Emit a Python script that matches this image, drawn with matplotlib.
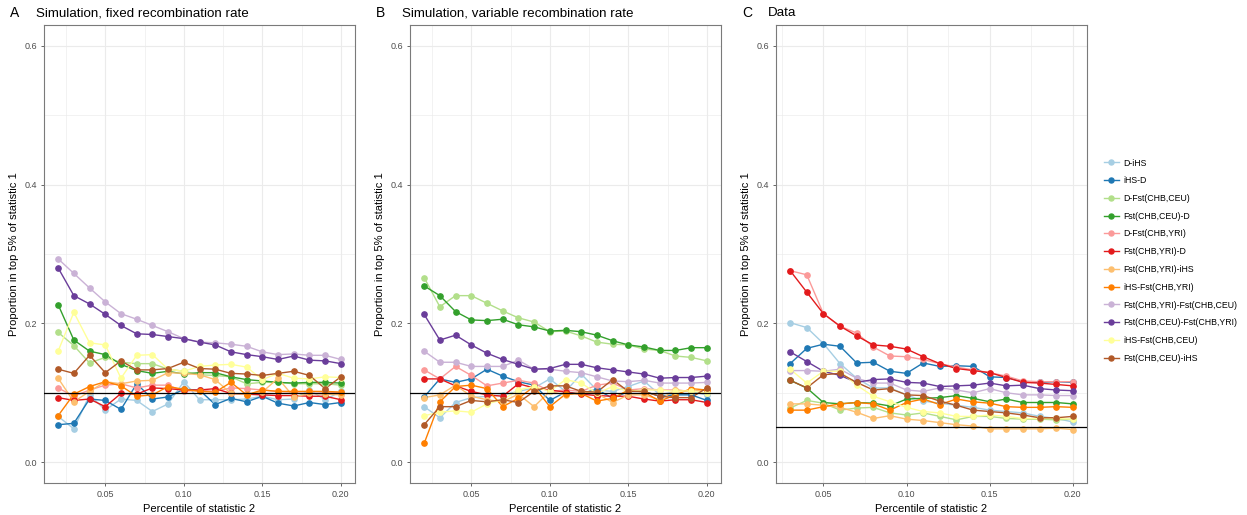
"""
Proportion of top-5% windows for statistic 1 that are also in the top
percentile of statistic 2, for two simulation settings and the real data.
"""

import matplotlib.pyplot as plt
import numpy as np

plt.rcParams["font.family"] = ["Liberation Sans", "DejaVu Sans"]

SERIES = [
    "D-iHS",
    "iHS-D",
    "D-Fst(CHB,CEU)",
    "Fst(CHB,CEU)-D",
    "D-Fst(CHB,YRI)",
    "Fst(CHB,YRI)-D",
    "Fst(CHB,YRI)-iHS",
    "iHS-Fst(CHB,YRI)",
    "Fst(CHB,YRI)-Fst(CHB,CEU)",
    "Fst(CHB,CEU)-Fst(CHB,YRI)",
    "iHS-Fst(CHB,CEU)",
    "Fst(CHB,CEU)-iHS",
]
# ColorBrewer "Paired"
COLORS = [
    "#A6CEE3", "#1F78B4", "#B2DF8A", "#33A02C", "#FB9A99", "#E31A1C",
    "#FDBF6F", "#FF7F00", "#CAB2D6", "#6A3D9A", "#FFFF99", "#B15928",
]

pct_sim = [round(0.01 * i, 2) for i in range(2, 21)]
pct_data = [round(0.01 * i, 2) for i in range(3, 21)]

sim_fixed = {
    "D-iHS": [0.066, 0.048, 0.097, 0.075, 0.091, 0.089, 0.073, 0.084, 0.116, 0.090,
              0.090, 0.090, 0.091, 0.095, 0.090, 0.091, 0.104, 0.090, 0.102],
    "iHS-D": [0.054, 0.056, 0.091, 0.089, 0.076, 0.113, 0.091, 0.094, 0.105, 0.104,
              0.083, 0.092, 0.087, 0.095, 0.085, 0.081, 0.086, 0.083, 0.086],
    "D-Fst(CHB,CEU)": [0.187, 0.168, 0.143, 0.151, 0.144, 0.142, 0.142, 0.134, 0.131, 0.126,
                       0.125, 0.123, 0.113, 0.115, 0.115, 0.113, 0.113, 0.113, 0.111],
    "Fst(CHB,CEU)-D": [0.227, 0.176, 0.160, 0.155, 0.141, 0.132, 0.128, 0.131, 0.127, 0.129,
                       0.129, 0.123, 0.119, 0.117, 0.115, 0.114, 0.115, 0.115, 0.114],
    "D-Fst(CHB,YRI)": [0.107, 0.095, 0.104, 0.111, 0.113, 0.107, 0.111, 0.111, 0.102, 0.104,
                       0.102, 0.107, 0.106, 0.104, 0.102, 0.101, 0.102, 0.101, 0.100],
    "Fst(CHB,YRI)-D": [0.093, 0.089, 0.091, 0.080, 0.099, 0.098, 0.107, 0.106, 0.104, 0.104,
                       0.106, 0.099, 0.098, 0.097, 0.096, 0.096, 0.095, 0.095, 0.090],
    "Fst(CHB,YRI)-iHS": [0.121, 0.087, 0.102, 0.116, 0.113, 0.117, 0.118, 0.129, 0.128, 0.126,
                         0.119, 0.099, 0.098, 0.101, 0.121, 0.094, 0.099, 0.098, 0.097],
    "iHS-Fst(CHB,YRI)": [0.067, 0.098, 0.109, 0.116, 0.110, 0.095, 0.097, 0.109, 0.105, 0.102,
                         0.101, 0.115, 0.097, 0.104, 0.102, 0.102, 0.102, 0.102, 0.101],
    "Fst(CHB,YRI)-Fst(CHB,CEU)": [0.293, 0.272, 0.251, 0.231, 0.214, 0.206, 0.197, 0.188, 0.178, 0.173,
                                  0.172, 0.170, 0.167, 0.159, 0.155, 0.156, 0.154, 0.154, 0.148],
    "Fst(CHB,CEU)-Fst(CHB,YRI)": [0.280, 0.240, 0.228, 0.213, 0.197, 0.185, 0.184, 0.181, 0.178, 0.173,
                                  0.169, 0.159, 0.155, 0.152, 0.148, 0.153, 0.147, 0.146, 0.142],
    "iHS-Fst(CHB,CEU)": [0.160, 0.216, 0.172, 0.169, 0.121, 0.154, 0.155, 0.134, 0.131, 0.138,
                         0.140, 0.141, 0.137, 0.119, 0.128, 0.121, 0.120, 0.123, 0.122],
    "Fst(CHB,CEU)-iHS": [0.134, 0.128, 0.154, 0.129, 0.146, 0.133, 0.133, 0.135, 0.144, 0.135,
                         0.134, 0.128, 0.127, 0.125, 0.128, 0.131, 0.125, 0.106, 0.123],
}

sim_variable = {
    "D-iHS": [0.080, 0.064, 0.086, 0.093, 0.095, 0.097, 0.102, 0.107, 0.120, 0.102,
              0.127, 0.104, 0.102, 0.109, 0.117, 0.097, 0.102, 0.102, 0.097],
    "iHS-D": [0.094, 0.120, 0.115, 0.120, 0.134, 0.124, 0.116, 0.111, 0.089, 0.101,
              0.099, 0.105, 0.092, 0.102, 0.102, 0.095, 0.097, 0.097, 0.089],
    "D-Fst(CHB,CEU)": [0.266, 0.224, 0.240, 0.240, 0.229, 0.218, 0.208, 0.202, 0.188, 0.189,
                       0.182, 0.173, 0.170, 0.169, 0.163, 0.161, 0.153, 0.151, 0.146],
    "Fst(CHB,CEU)-D": [0.254, 0.240, 0.217, 0.205, 0.204, 0.206, 0.198, 0.195, 0.189, 0.190,
                       0.188, 0.183, 0.175, 0.169, 0.166, 0.161, 0.161, 0.165, 0.165],
    "D-Fst(CHB,YRI)": [0.133, 0.120, 0.138, 0.125, 0.110, 0.114, 0.118, 0.114, 0.102, 0.104,
                       0.102, 0.111, 0.114, 0.104, 0.106, 0.104, 0.104, 0.102, 0.104],
    "Fst(CHB,YRI)-D": [0.120, 0.120, 0.110, 0.102, 0.097, 0.095, 0.113, 0.107, 0.104, 0.101,
                       0.098, 0.096, 0.095, 0.095, 0.091, 0.088, 0.090, 0.090, 0.086],
    "Fst(CHB,YRI)-iHS": [0.093, 0.097, 0.111, 0.095, 0.090, 0.087, 0.098, 0.080, 0.102, 0.097,
                         0.101, 0.099, 0.086, 0.097, 0.097, 0.090, 0.104, 0.102, 0.104],
    "iHS-Fst(CHB,YRI)": [0.027, 0.087, 0.109, 0.111, 0.106, 0.080, 0.092, 0.109, 0.080, 0.098,
                         0.099, 0.088, 0.092, 0.104, 0.101, 0.088, 0.097, 0.106, 0.104],
    "Fst(CHB,YRI)-Fst(CHB,CEU)": [0.160, 0.144, 0.144, 0.138, 0.138, 0.138, 0.147, 0.134, 0.134, 0.131,
                                  0.129, 0.123, 0.117, 0.116, 0.118, 0.114, 0.114, 0.114, 0.115],
    "Fst(CHB,CEU)-Fst(CHB,YRI)": [0.213, 0.176, 0.183, 0.169, 0.157, 0.148, 0.141, 0.134, 0.135, 0.141,
                                  0.141, 0.136, 0.133, 0.130, 0.127, 0.121, 0.122, 0.122, 0.124],
    "iHS-Fst(CHB,CEU)": [0.067, 0.072, 0.074, 0.072, 0.084, 0.090, 0.104, 0.109, 0.102, 0.119,
                         0.114, 0.099, 0.109, 0.102, 0.104, 0.104, 0.102, 0.103, 0.099],
    "Fst(CHB,CEU)-iHS": [0.054, 0.080, 0.080, 0.089, 0.087, 0.090, 0.086, 0.102, 0.110, 0.110,
                         0.102, 0.101, 0.119, 0.102, 0.102, 0.095, 0.093, 0.093, 0.107],
}

real_data = {
    "D-iHS": [0.201, 0.194, 0.171, 0.142, 0.121, 0.107, 0.107, 0.097, 0.088,
              0.085, 0.082, 0.079, 0.075, 0.073, 0.071, 0.066, 0.063, 0.058],
    "iHS-D": [0.142, 0.164, 0.170, 0.167, 0.143, 0.144, 0.131, 0.128, 0.143,
              0.138, 0.139, 0.138, 0.123, 0.122, 0.116, 0.115, 0.116, 0.115],
    "D-Fst(CHB,CEU)": [0.078, 0.089, 0.085, 0.075, 0.078, 0.079, 0.071, 0.068, 0.071,
                       0.066, 0.061, 0.066, 0.066, 0.063, 0.062, 0.062, 0.061, 0.062],
    "Fst(CHB,CEU)-D": [0.118, 0.107, 0.086, 0.084, 0.086, 0.085, 0.081, 0.091, 0.092,
                       0.093, 0.096, 0.092, 0.087, 0.091, 0.086, 0.086, 0.086, 0.084],
    "D-Fst(CHB,YRI)": [0.276, 0.270, 0.214, 0.196, 0.186, 0.166, 0.153, 0.152, 0.148,
                       0.142, 0.137, 0.133, 0.129, 0.124, 0.117, 0.116, 0.116, 0.116],
    "Fst(CHB,YRI)-D": [0.276, 0.245, 0.214, 0.196, 0.182, 0.169, 0.167, 0.163, 0.152,
                       0.142, 0.135, 0.132, 0.129, 0.122, 0.115, 0.114, 0.112, 0.110],
    "Fst(CHB,YRI)-iHS": [0.084, 0.084, 0.082, 0.079, 0.072, 0.063, 0.067, 0.062, 0.060,
                         0.057, 0.054, 0.052, 0.048, 0.048, 0.048, 0.048, 0.049, 0.047],
    "iHS-Fst(CHB,YRI)": [0.075, 0.075, 0.080, 0.084, 0.086, 0.084, 0.075, 0.086, 0.091,
                         0.083, 0.091, 0.087, 0.085, 0.080, 0.079, 0.079, 0.080, 0.079],
    "Fst(CHB,YRI)-Fst(CHB,CEU)": [0.132, 0.132, 0.131, 0.134, 0.121, 0.114, 0.114, 0.104, 0.102,
                                  0.107, 0.104, 0.100, 0.106, 0.100, 0.097, 0.097, 0.096, 0.096],
    "Fst(CHB,CEU)-Fst(CHB,YRI)": [0.159, 0.145, 0.131, 0.125, 0.115, 0.119, 0.120, 0.115, 0.114,
                                  0.109, 0.110, 0.111, 0.114, 0.110, 0.111, 0.106, 0.104, 0.103],
    "iHS-Fst(CHB,CEU)": [0.134, 0.114, 0.131, 0.131, 0.111, 0.095, 0.087, 0.079, 0.073,
                         0.071, 0.066, 0.066, 0.068, 0.066, 0.063, 0.063, 0.063, 0.062],
    "Fst(CHB,CEU)-iHS": [0.118, 0.107, 0.126, 0.128, 0.115, 0.104, 0.106, 0.097, 0.096,
                         0.088, 0.082, 0.075, 0.073, 0.071, 0.068, 0.064, 0.064, 0.066],
}

PANELS = [
    ("A", "Simulation, fixed recombination rate", pct_sim, sim_fixed, 0.10),
    ("B", "Simulation, variable recombination rate", pct_sim, sim_variable, 0.10),
    ("C", "Data", pct_data, real_data, 0.05),
]

W, H = 1247, 515
fig = plt.figure(figsize=(W / 100, H / 100), dpi=100)

GRID = "#EBEBEB"
BORDER = "#7A7A7A"
TICKC = "#4D4D4D"
lefts = [44, 410, 776]
labx = [10, 376, 742]


def style_axes(ax, x):
    lo, hi = min(x), max(x)
    pad = 0.05 * (hi - lo)
    ax.set_xlim(lo - pad, hi + pad)
    ax.set_ylim(-0.03, 0.63)
    ax.set_xticks([0.05, 0.10, 0.15, 0.20])
    ax.set_xticklabels(["0.05", "0.10", "0.15", "0.20"])
    ax.set_xticks([0.025, 0.075, 0.125, 0.175], minor=True)
    ax.set_yticks([0.0, 0.2, 0.4, 0.6])
    ax.set_yticklabels(["0.0", "0.2", "0.4", "0.6"])
    ax.set_yticks([0.1, 0.3, 0.5], minor=True)
    ax.grid(True, which="major", color=GRID, lw=0.8, zorder=0)
    ax.grid(True, which="minor", color=GRID, lw=0.45, zorder=0)
    ax.set_axisbelow(True)
    ax.tick_params(which="major", length=2.5, width=0.6, color=TICKC,
                   labelsize=6.5, labelcolor=TICKC, pad=2.5)
    ax.tick_params(which="minor", length=0)
    for sp in ax.spines.values():
        sp.set_color(BORDER)
        sp.set_linewidth(0.8)
    ax.set_xlabel("Percentile of statistic 2", fontsize=8, labelpad=4)
    ax.set_ylabel("Proportion in top 5% of statistic 1", fontsize=8, labelpad=4)


handles = []
for i, (tag, title, x, data, ref) in enumerate(PANELS):
    ax = fig.add_axes([lefts[i] / W, 32 / H, 311 / W, 458 / H])
    style_axes(ax, x)
    # lines first, then all points on top
    for name, col in zip(SERIES, COLORS):
        ax.plot(x, data[name], color=col, lw=1.0, zorder=2)
    for name, col in zip(SERIES, COLORS):
        ax.plot(x, data[name], "o", color=col, ms=3.8, zorder=3)
    ax.axhline(ref, color="black", lw=0.9, zorder=4)

    fig.text(labx[i] / W, 1 - 13 / H, tag, fontsize=10, va="center", ha="left")
    fig.text((labx[i] + 26) / W, 1 - 13 / H, title, fontsize=9.6, va="center", ha="left")

for name, col in zip(SERIES, COLORS):
    h, = plt.plot([], [], "-o", color=col, lw=1.0, ms=3.6)
    handles.append(h)

fig.legend(handles, SERIES, loc="upper left", bbox_to_anchor=(1100 / W, 1 - 155 / H),
           frameon=False, fontsize=6.3, handlelength=1.8, handletextpad=0.5,
           labelspacing=1.0, borderaxespad=0)

fig.savefig("out.png", dpi=100, facecolor="white")
